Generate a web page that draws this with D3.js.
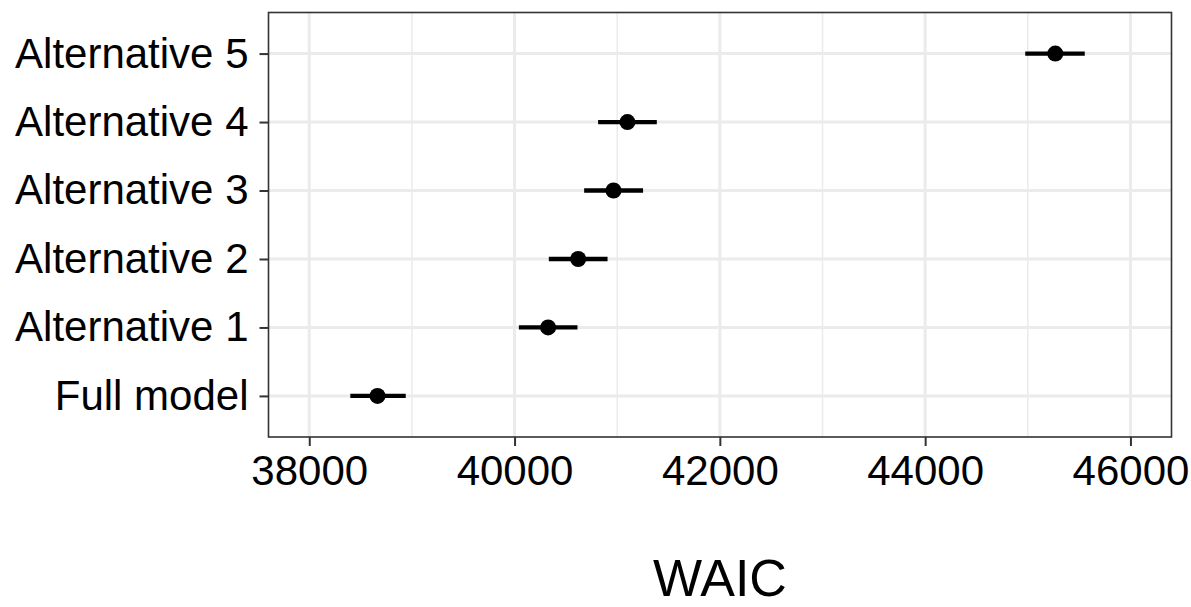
<!DOCTYPE html>
<html>
<head>
<meta charset="utf-8">
<script src="https://cdn.jsdelivr.net/npm/d3@7"></script>
<style>
  body { margin: 0; background: #fff; }
  text { font-family: "Liberation Sans", Arial, sans-serif; }
</style>
</head>
<body>
<div id="chart"></div>
<script>
// models, bottom to top
var models = ['Full model', 'Alternative 1', 'Alternative 2', 'Alternative 3', 'Alternative 4', 'Alternative 5']
var waic = [38665, 40327, 40620, 40964, 41100, 45268]
var lower = [38400, 40042, 40334, 40678, 40814, 44975]
var upper = [38940, 40613, 40906, 41252, 41386, 45555]
var xTicks = [38000, 40000, 42000, 44000, 46000]
var xMinor = [39000, 41000, 43000, 45000]

var width = 1191, height = 607
var margin = { top: 12.5, right: 19.5, bottom: 170, left: 268.5 }
var w = width - margin.left - margin.right
var h = height - margin.top - margin.bottom

var rows = models.map(function (m, i) {
  return { name: m, est: waic[i], lo: lower[i], hi: upper[i] }
})

var x = d3.scaleLinear().domain([37603, 46400]).range([0, w])
// discrete axis with ggplot-like 0.6 expansion
var y = d3.scaleLinear().domain([0.4, 6.6]).range([h, 0])

var svg = d3.select('#chart').append('svg')
  .attr('width', width).attr('height', height)

var g = svg.append('g').attr('transform', 'translate(' + margin.left + ',' + margin.top + ')')

// grid
g.selectAll('.minor').data(xMinor).enter().append('line')
  .attr('x1', x).attr('x2', x).attr('y1', 0).attr('y2', h)
  .attr('stroke', '#ebebeb').attr('stroke-width', 1.5)

g.selectAll('.vmajor').data(xTicks).enter().append('line')
  .attr('x1', x).attr('x2', x).attr('y1', 0).attr('y2', h)
  .attr('stroke', '#ebebeb').attr('stroke-width', 3)

g.selectAll('.hmajor').data(models).enter().append('line')
  .attr('x1', 0).attr('x2', w)
  .attr('y1', function (d, i) { return y(i + 1) })
  .attr('y2', function (d, i) { return y(i + 1) })
  .attr('stroke', '#ebebeb').attr('stroke-width', 3)

// error bars + points
g.selectAll('.err').data(rows).enter().append('line')
  .attr('x1', function (d) { return x(d.lo) })
  .attr('x2', function (d) { return x(d.hi) })
  .attr('y1', function (d, i) { return y(i + 1) })
  .attr('y2', function (d, i) { return y(i + 1) })
  .attr('stroke', '#000').attr('stroke-width', 4.3)

g.selectAll('.pt').data(rows).enter().append('circle')
  .attr('cx', function (d) { return x(d.est) })
  .attr('cy', function (d, i) { return y(i + 1) })
  .attr('r', 8)
  .attr('fill', '#000')

// panel border
g.append('rect').attr('width', w).attr('height', h)
  .attr('fill', 'none').attr('stroke', '#333').attr('stroke-width', 1.6)

// x axis
var xAxis = g.append('g').attr('transform', 'translate(0,' + h + ')')
  .call(d3.axisBottom(x).tickValues(xTicks).tickFormat(d3.format('d')).tickSize(9).tickPadding(9))
xAxis.select('.domain').remove()
xAxis.selectAll('line').attr('stroke', '#333').attr('stroke-width', 2)
xAxis.selectAll('text').attr('font-size', 42).attr('fill', '#000')

// y axis
var yAxis = g.append('g')
  .call(d3.axisLeft(y).tickValues([1, 2, 3, 4, 5, 6])
    .tickFormat(function (d) { return models[d - 1] }).tickSize(9).tickPadding(11))
yAxis.select('.domain').remove()
yAxis.selectAll('line').attr('stroke', '#333').attr('stroke-width', 2)
yAxis.selectAll('text').attr('font-size', 42).attr('fill', '#000')

// axis title
svg.append('text')
  .attr('x', margin.left + w / 2).attr('y', 596)
  .attr('text-anchor', 'middle')
  .attr('font-size', 52).attr('fill', '#000')
  .text('WAIC')
</script>
</body>
</html>
